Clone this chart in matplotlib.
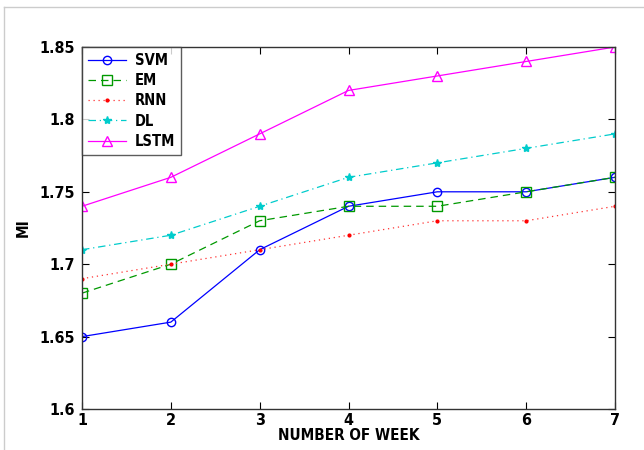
import matplotlib.pyplot as plt
from matplotlib.lines import Line2D

weeks = [1, 2, 3, 4, 5, 6, 7]
svm = [1.65, 1.66, 1.71, 1.74, 1.75, 1.75, 1.76]
em = [1.68, 1.70, 1.73, 1.74, 1.74, 1.75, 1.76]
rnn = [1.69, 1.70, 1.71, 1.72, 1.73, 1.73, 1.74]
dl = [1.71, 1.72, 1.74, 1.76, 1.77, 1.78, 1.79]
lstm = [1.74, 1.76, 1.79, 1.82, 1.83, 1.84, 1.85]
y_ticks = [1.6, 1.65, 1.7, 1.75, 1.8, 1.85]
y_tick_labels = ["1.6", "1.65", "1.7", "1.75", "1.8", "1.85"]

plt.rcParams["font.family"] = "DejaVu Sans"
plt.rcParams["font.stretch"] = "condensed"
plt.rcParams["font.weight"] = "bold"

fig = plt.figure(figsize=(6.44, 4.5), dpi=100)
ax = fig.add_axes([82 / 644, 1 - 409 / 450, (615 - 82) / 644, (409 - 47) / 450])

ax.plot(weeks, svm, color="#0000ff", linestyle="-", linewidth=0.9,
        marker="o", markersize=6, markerfacecolor="none", label="SVM")
ax.plot(weeks, em, color="#009900", linestyle=(0, (6, 4)), linewidth=0.9,
        marker="s", markersize=6.5, markerfacecolor="none", label="EM")
ax.plot(weeks, rnn, color="#ff3333", linestyle=(0, (1, 3)), linewidth=0.9,
        marker=".", markersize=4, markeredgecolor="red", markerfacecolor="red", label="RNN")
ax.plot(weeks, dl, color="#00cccc", linestyle=(0, (6, 3, 1, 3)), linewidth=0.9,
        marker="*", markersize=6, label="DL")
ax.plot(weeks, lstm, color="#ff00ff", linestyle="-", linewidth=0.9,
        marker="^", markersize=7, markerfacecolor="none", label="LSTM")

ax.set_xlim(1, 7)
ax.set_ylim(1.6, 1.85)
ax.set_xticks(weeks)
ax.set_yticks(y_ticks)
ax.set_yticklabels(y_tick_labels)
ax.tick_params(direction="in", top=True, right=True, length=5, labelsize=11.5)
ax.tick_params(axis="x", pad=3)
ax.tick_params(axis="y", pad=5)
for s in ax.spines.values():
    s.set_linewidth(1.0)
    s.set_color("#333333")

ax.set_xlabel("NUMBER OF WEEK", fontsize=11, fontweight="bold", labelpad=0)
ax.set_ylabel("MI", fontsize=11, fontweight="bold", labelpad=6)

leg = ax.legend(loc="upper left", borderaxespad=0, fancybox=False,
                edgecolor="#333333", fontsize=10.5, handlelength=2.6,
                handletextpad=0.6, labelspacing=0.36, borderpad=0.4,
                numpoints=1)
leg.get_frame().set_linewidth(1.0)

fig.add_artist(Line2D([4 / 644, 4 / 644], [0, 1 - 7 / 450], color="#cccccc", linewidth=1))
fig.add_artist(Line2D([4 / 644, 1], [1 - 7 / 450, 1 - 7 / 450], color="#cccccc", linewidth=1))

fig.savefig("out.png", dpi=100)
